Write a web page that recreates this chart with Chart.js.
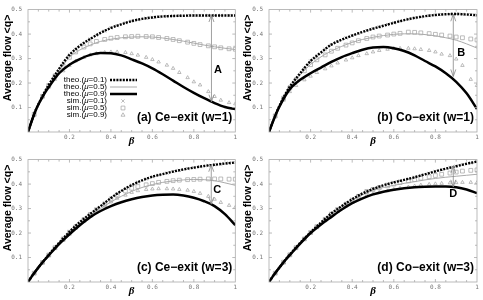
<!DOCTYPE html>
<html>
<head>
<meta charset="utf-8">
<script src="https://cdn.jsdelivr.net/npm/chart.js@4.4.0/dist/chart.umd.min.js"></script>
<style>
  html, body { margin: 0; padding: 0; background: #fff; }
  #wrap { position: relative; width: 483px; height: 300px; }
  canvas { position: absolute; }
</style>
</head>
<body>
<div id="wrap">
  <canvas id="pa" width="240" height="150" style="left:0;top:0"></canvas>
  <canvas id="pb" width="243" height="150" style="left:240px;top:0"></canvas>
  <canvas id="pc" width="240" height="150" style="left:0;top:150px"></canvas>
  <canvas id="pd" width="243" height="150" style="left:240px;top:150px"></canvas>
</div>
<script>
// beta grid of the theory curves and of the simulation runs
const theoBeta = [0, 0.02, 0.04, 0.06, 0.08, 0.1, 0.15, 0.2, 0.25, 0.3, 0.35, 0.4, 0.45, 0.5, 0.55, 0.6, 0.65, 0.7, 0.75, 0.8, 0.85, 0.9, 0.95, 1];
const simBeta = [0.03, 0.07, 0.1, 0.13, 0.17, 0.2, 0.23, 0.27, 0.3, 0.33, 0.37, 0.4, 0.43, 0.47, 0.5, 0.53, 0.57, 0.6, 0.63, 0.67, 0.7, 0.73, 0.77, 0.8, 0.83, 0.87, 0.9, 0.93, 0.97, 1];

const xTicks = [0.2, 0.4, 0.6, 0.8, 1];
const xTickLabels = ['0.2', '0.4', '0.6', '0.8', '1'];
const yTicks = [0.1, 0.2, 0.3, 0.4, 0.5];
const yTickLabels = ['0.1', '0.2', '0.3', '0.4', '0.5'];

// (a) Ce-exit w=1
const aTheo01 = [0, .05, .095, .13, .163, .192, .258, .315, .352, .38, .405, .425, .44, .453, .462, .468, .472, .474, .475, .476, .476, .476, .476, .476];
const aTheo05 = [0, .05, .095, .13, .162, .19, .25, .305, .335, .355, .37, .379, .385, .388, .389, .388, .384, .378, .371, .363, .355, .348, .342, .337];
const aTheo09 = [0, .05, .094, .128, .158, .183, .24, .275, .298, .315, .323, .322, .313, .297, .28, .26, .236, .21, .184, .16, .138, .118, .102, .094];
const aSim01 = [.072, .148, .192, .232, .272, .315, .338, .362, .38, .395, .412, .425, .434, .446, .453, .459, .465, .468, .471, .473, .474, .475, .476, .476, .476, .476, .476, .476, .476, .476];
const aSim05 = [.072, .146, .19, .228, .268, .305, .327, .347, .36, .37, .378, .383, .386, .389, .39, .391, .39, .389, .386, .382, .378, .373, .367, .362, .357, .352, .348, .344, .34, .338];
const aSim09 = [.07, .143, .183, .215, .25, .272, .29, .305, .315, .32, .325, .327, .327, .325, .32, .314, .305, .296, .286, .273, .26, .243, .222, .205, .192, .165, .145, .13, .12, .115];

// (b) Co-exit w=1
const bTheo01 = [0, .045, .088, .124, .157, .185, .24, .29, .325, .357, .377, .394, .409, .422, .434, .446, .457, .466, .473, .478, .481, .482, .48, .477];
const bTheo05 = [0, .045, .087, .123, .155, .182, .233, .276, .307, .331, .35, .366, .378, .387, .394, .399, .401, .401, .398, .393, .385, .375, .36, .343];
const bTheo09 = [0, .045, .086, .12, .15, .175, .213, .24, .263, .286, .306, .322, .336, .345, .347, .342, .331, .313, .29, .268, .24, .205, .158, .094];
const bSim01 = [.066, .14, .185, .218, .26, .29, .311, .338, .357, .369, .384, .394, .403, .414, .422, .429, .439, .446, .453, .461, .466, .47, .475, .478, .48, .481, .482, .481, .479, .477];
const bSim05 = [.066, .138, .18, .212, .25, .275, .295, .315, .33, .342, .355, .364, .373, .382, .388, .392, .396, .4, .403, .408, .407, .405, .402, .399, .396, .392, .388, .385, .38, .376];
const bSim09 = [.062, .13, .165, .19, .213, .228, .243, .258, .27, .282, .294, .303, .312, .32, .327, .333, .338, .341, .342, .342, .34, .337, .333, .327, .318, .312, .298, .272, .215, .19];

// (c) Ce-exit w=3
const cTheo01 = [0, .025, .048, .07, .091, .111, .16, .205, .245, .278, .31, .343, .372, .396, .415, .43, .441, .451, .46, .467, .474, .479, .484, .488];
const cTheo05 = [0, .025, .048, .07, .091, .11, .158, .2, .238, .272, .3, .327, .35, .37, .386, .398, .407, .413, .417, .419, .418, .414, .405, .395];
const cTheo09 = [0, .025, .048, .07, .09, .109, .155, .195, .232, .265, .29, .31, .326, .338, .347, .353, .356, .357, .353, .344, .33, .31, .277, .232];
const cSim01 = [.036, .08, .111, .141, .177, .205, .229, .258, .278, .297, .323, .343, .361, .382, .396, .408, .421, .43, .437, .445, .451, .456, .463, .467, .471, .476, .479, .481, .486, .488];
const cSim05 = [.036, .08, .11, .14, .176, .203, .225, .255, .275, .295, .318, .336, .354, .372, .383, .39, .397, .402, .407, .411, .414, .416, .418, .419, .42, .421, .421, .421, .42, .42];
const cSim09 = [.036, .079, .108, .137, .17, .195, .22, .248, .268, .288, .31, .327, .342, .355, .366, .373, .378, .38, .381, .381, .38, .378, .375, .37, .362, .35, .338, .325, .313, .305];

// (d) Co-exit w=3
const dTheo01 = [0, .025, .048, .07, .092, .112, .16, .203, .243, .28, .31, .338, .362, .38, .395, .407, .417, .428, .44, .452, .463, .473, .483, .492];
const dTheo05 = [0, .025, .048, .07, .091, .111, .159, .202, .241, .278, .307, .333, .356, .375, .386, .395, .403, .41, .417, .423, .428, .432, .436, .44];
const dTheo09 = [0, .025, .048, .07, .091, .11, .157, .2, .235, .266, .296, .322, .342, .358, .369, .377, .383, .387, .389, .39, .39, .387, .378, .363];
const dSim01 = [.036, .081, .112, .141, .177, .203, .227, .258, .28, .298, .32, .338, .353, .369, .38, .389, .4, .407, .413, .421, .428, .435, .444, .452, .459, .467, .473, .479, .486, .492];
const dSim05 = [.036, .081, .111, .14, .176, .202, .226, .256, .277, .296, .318, .334, .35, .37, .378, .385, .393, .4, .406, .413, .418, .424, .43, .435, .44, .445, .449, .453, .456, .458];
const dSim09 = [.036, .08, .11, .139, .174, .2, .222, .25, .27, .288, .31, .325, .34, .355, .36, .366, .372, .378, .383, .388, .392, .396, .399, .401, .403, .405, .406, .407, .407, .406];

// gap arrows A-D: beta position, upper and lower flow
const arrowBeta = [0.885, 0.886, 0.884, 0.886];
const arrowTop = [0.478, 0.481, 0.479, 0.473];
const arrowBottom = [0.124, 0.227, 0.318, 0.389];
const arrowLetters = ['A', 'B', 'C', 'D'];
const panelTitles = ['(a) Ce\u2212exit (w=1)', '(b) Co\u2212exit (w=1)', '(c) Ce\u2212exit (w=3)', '(d) Co\u2212exit (w=3)'];
const legendText = ['theo.(\u03bc=0.1)', 'theo.(\u03bc=0.5)', 'theo.(\u03bc=0.9)', 'sim.(\u03bc=0.1)', 'sim.(\u03bc=0.5)', 'sim.(\u03bc=0.9)'];

const SANS = '"Liberation Sans", Arial, sans-serif';
const GRAY = '#a0a0a0';

function pts(xs, ys) {
    return xs.map((b, i) => ({ x: b, y: ys[i] }));
}

function drawMarker(ctx, style, x, y, r) {
    ctx.beginPath();
    if (style === 'crossRot') {
        const d = r * 0.75;
        ctx.moveTo(x - d, y - d); ctx.lineTo(x + d, y + d);
        ctx.moveTo(x - d, y + d); ctx.lineTo(x + d, y - d);
    } else if (style === 'rect') {
        const d = r * Math.SQRT1_2;
        ctx.rect(x - d, y - d, 2 * d, 2 * d);
    } else {
        ctx.moveTo(x - r, y + r * 0.6); ctx.lineTo(x + r, y + r * 0.6); ctx.lineTo(x, y - r * 1.1); ctx.closePath();
    }
    ctx.stroke();
}

// frame with small inward ticks, like the original plots
const framePlugin = {
    id: 'frame',
    afterDatasetsDraw(chart) {
        const { ctx, chartArea: a, scales: { x, y } } = chart;
        ctx.save();
        ctx.strokeStyle = '#aaa';
        ctx.lineWidth = 0.8;
        ctx.strokeRect(a.left, a.top, a.right - a.left, a.bottom - a.top);
        ctx.beginPath();
        for (let i = 1; i < 20; i++) {
            const px = x.getPixelForValue(i / 20), len = i % 4 === 0 ? 3 : 2;
            ctx.moveTo(px, a.bottom); ctx.lineTo(px, a.bottom - len);
            ctx.moveTo(px, a.top); ctx.lineTo(px, a.top + len);
        }
        for (let i = 1; i < 10; i++) {
            const py = y.getPixelForValue(i / 20), len = i % 2 === 0 ? 3 : 2;
            ctx.moveTo(a.left, py); ctx.lineTo(a.left + len, py);
            ctx.moveTo(a.right, py); ctx.lineTo(a.right - len, py);
        }
        ctx.stroke();
        ctx.restore();
    }
};

const notesPlugin = {
    id: 'notes',
    afterDatasetsDraw(chart, args, o) {
        const { ctx, chartArea: a, scales: { x, y } } = chart;
        ctx.save();
        // double arrow showing the gap
        const px = x.getPixelForValue(o.beta);
        const y1 = y.getPixelForValue(o.top), y2 = y.getPixelForValue(o.bottom);
        ctx.strokeStyle = '#888';
        ctx.lineWidth = 0.8;
        ctx.beginPath();
        ctx.moveTo(px, y1); ctx.lineTo(px, y2);
        ctx.moveTo(px - 2.5, y1 + 7); ctx.lineTo(px, y1); ctx.lineTo(px + 2.5, y1 + 7);
        ctx.moveTo(px - 2.5, y2 - 7); ctx.lineTo(px, y2); ctx.lineTo(px + 2.5, y2 - 7);
        ctx.stroke();
        ctx.fillStyle = '#000';
        ctx.font = 'bold 11px ' + SANS;
        ctx.textBaseline = 'middle';
        ctx.textAlign = o.labelAlign;
        ctx.fillText(o.letter, px + o.labelDx, y.getPixelForValue(o.labelAt));

        // panel caption
        ctx.font = 'bold 12px ' + SANS;
        ctx.textAlign = 'right';
        ctx.fillText(o.title, a.right - 3, 118);

        // y axis title, sits a little above centre in the original
        ctx.translate(8.5, 58);
        ctx.rotate(-Math.PI / 2);
        ctx.textAlign = 'center';
        ctx.font = 'bold 10.5px ' + SANS;
        ctx.fillText('Average flow <q>', 0, 0);
        ctx.restore();
    }
};

const legendPlugin = {
    id: 'miniLegend',
    afterDatasetsDraw(chart, args, o) {
        if (!o.show) return;
        const ctx = chart.ctx;
        const dsOrder = [0, 2, 1, 3, 4, 5];
        const rowsY = [80, 87, 94, 101, 108, 115];
        ctx.save();
        ctx.textBaseline = 'middle';
        legendText.forEach((txt, i) => {
            const parts = txt.split('\u03bc');
            const segs = [[parts[0], false], ['\u03bc', true], [parts[1], false]];
            let w = 0;
            segs.forEach(s => { ctx.font = (s[1] ? 'italic ' : '') + '8px ' + SANS; w += ctx.measureText(s[0]).width; });
            let tx = 107 - w;
            ctx.fillStyle = '#000';
            segs.forEach(s => {
                ctx.font = (s[1] ? 'italic ' : '') + '8px ' + SANS;
                ctx.fillText(s[0], tx, rowsY[i]);
                tx += ctx.measureText(s[0]).width;
            });
            const ds = chart.data.datasets[dsOrder[i]];
            ctx.strokeStyle = ds.borderColor;
            if (ds.showLine) {
                ctx.lineWidth = ds.borderWidth;
                ctx.setLineDash(ds.borderDash || []);
                ctx.beginPath();
                ctx.moveTo(110, rowsY[i]); ctx.lineTo(137, rowsY[i]);
                ctx.stroke();
                ctx.setLineDash([]);
            } else {
                ctx.lineWidth = ds.borderWidth;
                drawMarker(ctx, ds.pointStyle, 123, rowsY[i], ds.pointRadius);
            }
        });
        ctx.restore();
    }
};

function makePanel(id, idx, theo, sim, labelAlign, labelDx, labelAt) {
    const wide = idx % 2 === 1;
    new Chart(document.getElementById(id), {
        type: 'scatter',
        data: {
            datasets: [
                { label: legendText[0], data: pts(theoBeta, theo[0]), showLine: true, borderColor: '#000', borderWidth: 2.4, borderDash: [2, 1.2], pointRadius: 0, cubicInterpolationMode: 'monotone' },
                { label: legendText[2], data: pts(theoBeta, theo[2]), showLine: true, borderColor: '#000', borderWidth: 2.5, pointRadius: 0, cubicInterpolationMode: 'monotone' },
                { label: legendText[1], data: pts(theoBeta, theo[1]), showLine: true, borderColor: '#aaa', borderWidth: 1, pointRadius: 0, cubicInterpolationMode: 'monotone' },
                { label: legendText[3], data: pts(simBeta, sim[0]), showLine: false, pointStyle: 'crossRot', pointRadius: 2.2, borderColor: GRAY, borderWidth: 0.7, backgroundColor: 'rgba(0,0,0,0)' },
                { label: legendText[4], data: pts(simBeta, sim[1]), showLine: false, pointStyle: 'rect', pointRadius: 2.7, borderColor: GRAY, borderWidth: 0.7, backgroundColor: 'rgba(0,0,0,0)' },
                { label: legendText[5], data: pts(simBeta, sim[2]), showLine: false, pointStyle: 'triangle', pointRadius: 2, borderColor: GRAY, borderWidth: 0.7, backgroundColor: 'rgba(0,0,0,0)' }
            ]
        },
        options: {
            responsive: false,
            animation: false,
            devicePixelRatio: 1,
            events: [],
            layout: { padding: { top: 3, right: wide ? 6 : 3, left: 0, bottom: 0 } },
            scales: {
                x: {
                    type: 'linear', min: 0, max: 1,
                    afterBuildTicks: s => { s.ticks = xTicks.map(v => ({ value: v })); },
                    afterFit: s => { s.height = 18; },
                    grid: { display: false, drawTicks: false },
                    border: { display: false },
                    ticks: { padding: 2, maxRotation: 0, autoSkip: false, color: '#777', font: { size: 6, family: '"DejaVu Sans Mono", monospace' }, callback: (v, i) => xTickLabels[i] },
                    title: { display: true, text: '\u03b2', color: '#000', font: { size: 11, style: 'italic', weight: 'bold', family: '"Liberation Serif", serif' }, padding: { top: 0, bottom: 2 } }
                },
                y: {
                    type: 'linear', min: 0, max: 0.5,
                    afterBuildTicks: s => { s.ticks = yTicks.map(v => ({ value: v })); },
                    afterFit: s => { s.width = wide ? 29 : 28; },
                    grid: { display: false, drawTicks: false },
                    border: { display: false },
                    ticks: { padding: 6, autoSkip: false, color: '#777', font: { size: 6, family: '"DejaVu Sans Mono", monospace' }, callback: (v, i) => yTickLabels[i] }
                }
            },
            plugins: {
                legend: { display: false },
                tooltip: { enabled: false },
                notes: {
                    beta: arrowBeta[idx], top: arrowTop[idx], bottom: arrowBottom[idx],
                    letter: arrowLetters[idx], title: panelTitles[idx],
                    labelAlign: labelAlign, labelDx: labelDx, labelAt: labelAt
                },
                miniLegend: { show: idx === 0 }
            }
        },
        plugins: [framePlugin, notesPlugin, legendPlugin]
    });
}

makePanel('pa', 0, [aTheo01, aTheo05, aTheo09], [aSim01, aSim05, aSim09], 'left', 2.5, 0.253);
makePanel('pb', 1, [bTheo01, bTheo05, bTheo09], [bSim01, bSim05, bSim09], 'left', 4, 0.324);
makePanel('pc', 2, [cTheo01, cTheo05, cTheo09], [cSim01, cSim05, cSim09], 'left', 2, 0.376);
makePanel('pd', 3, [dTheo01, dTheo05, dTheo09], [dSim01, dSim05, dSim09], 'center', 0, 0.36);
</script>
</body>
</html>
